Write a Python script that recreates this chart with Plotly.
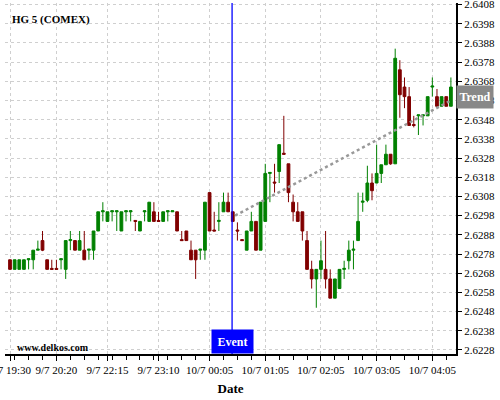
import plotly.graph_objects as go

# ---- data ----
idx = list(range(96))
opens = [2.6275, 2.6270, 2.6270, 2.6270, 2.6275, 2.6275, 2.6280, 2.6285, 2.6275, 2.62705,
         2.62705, 2.6275, 2.6270, 2.6285, 2.6285, 2.6280, 2.6280, 2.6280, 2.6280, 2.6290,
         2.6300, 2.6295, 2.6300, 2.6300, 2.6290, 2.6300, 2.6300, 2.62955, 2.6290, 2.6300,
         2.6295, 2.6300, 2.62955, 2.6295, 2.6300, 2.6300, 2.6300, 2.62855, 2.6290, 2.6280,
         2.6280, 2.6280, 2.6280, 2.6310, 2.62905, 2.6295, 2.6300, 2.6305, 2.6300, 2.62905,
         2.62855, 2.6280, 2.6290, 2.6295, 2.6280, 2.6295, 2.6320, 2.63155, 2.6321, 2.63305,
         2.6325, 2.6305, 2.6300, 2.6300, 2.6285, 2.6270, 2.6265, 2.6270, 2.6270, 2.6265,
         2.6255, 2.6260, 2.6270, 2.62745, 2.6280, 2.6285, 2.6305, 2.6306, 2.6315, 2.6315,
         2.6320, 2.63245, 2.6330, 2.6325, 2.6374, 2.6365, 2.6360, 2.63455, 2.6350, 2.6350,
         2.6350, 2.6365, 2.6360, 2.6355, 2.6360, 2.6355]
highs = [2.6275, 2.6275, 2.6275, 2.6275, 2.62755, 2.6280, 2.6285, 2.6290, 2.6275, 2.6275,
         2.6275, 2.62755, 2.6285, 2.6290, 2.6285, 2.6290, 2.6290, 2.62805, 2.6290, 2.6300,
         2.6305, 2.6300, 2.63005, 2.63005, 2.6300, 2.63005, 2.63005, 2.62955, 2.6295, 2.63005,
         2.6305, 2.6305, 2.6300, 2.6300, 2.63005, 2.63005, 2.6300, 2.6290, 2.6290, 2.6285,
         2.6280, 2.62805, 2.6305, 2.6310, 2.6300, 2.6305, 2.6310, 2.6310, 2.6300, 2.62945,
         2.62855, 2.6290, 2.6300, 2.6295, 2.6305, 2.6325, 2.63205, 2.6325, 2.6335, 2.6350,
         2.6325, 2.6309, 2.6305, 2.6300, 2.6290, 2.62745, 2.6270, 2.6285, 2.6290, 2.6270,
         2.6265, 2.6270, 2.62745, 2.6285, 2.6285, 2.6310, 2.6310, 2.6324, 2.6320, 2.6335,
         2.63245, 2.6335, 2.6330, 2.6385, 2.6379, 2.6370, 2.6365, 2.6350, 2.63505, 2.63505,
         2.6360, 2.6370, 2.6364, 2.6360, 2.6360, 2.6370]
lows = [2.6270, 2.6270, 2.6270, 2.6270, 2.6270, 2.6270, 2.6280, 2.62795, 2.6270, 2.6270,
        2.6270, 2.6270, 2.6265, 2.6280, 2.6280, 2.6280, 2.6275, 2.6275, 2.6275, 2.6290,
        2.6295, 2.6295, 2.6295, 2.6290, 2.6290, 2.6295, 2.6295, 2.6290, 2.6290, 2.6295,
        2.6295, 2.6295, 2.6295, 2.6295, 2.6295, 2.6300, 2.6290, 2.6285, 2.6285, 2.6275,
        2.6265, 2.6275, 2.6275, 2.6290, 2.6290, 2.6290, 2.6300, 2.6300, 2.6295, 2.6285,
        2.6285, 2.6280, 2.6290, 2.6280, 2.6280, 2.6295, 2.6305, 2.6310, 2.6315, 2.6330,
        2.6305, 2.6295, 2.6295, 2.6285, 2.6270, 2.6260, 2.6250, 2.6265, 2.6260, 2.6255,
        2.6255, 2.6260, 2.6265, 2.6270, 2.6270, 2.6285, 2.6300, 2.6305, 2.6306, 2.6315,
        2.6315, 2.63245, 2.63245, 2.6325, 2.6349, 2.6354, 2.6345, 2.6344, 2.6340, 2.6345,
        2.6350, 2.6360, 2.6355, 2.6355, 2.6355, 2.6355]
closes = [2.6270, 2.6275, 2.6275, 2.6275, 2.62755, 2.6280, 2.62805, 2.6280, 2.6270, 2.6270,
          2.6270, 2.62755, 2.6285, 2.62855, 2.6280, 2.6285, 2.6275, 2.62805, 2.6290, 2.6300,
          2.63005, 2.6300, 2.63005, 2.63005, 2.6300, 2.63005, 2.63005, 2.6295, 2.6295, 2.63005,
          2.6305, 2.6295, 2.6295, 2.6300, 2.63005, 2.63005, 2.6290, 2.6285, 2.6285, 2.6275,
          2.6275, 2.62805, 2.6305, 2.6290, 2.6290, 2.62955, 2.6305, 2.6300, 2.6295, 2.6290,
          2.6285, 2.6290, 2.6295, 2.6280, 2.6305, 2.6320, 2.63205, 2.6315, 2.6335, 2.6330,
          2.6310, 2.6300, 2.6295, 2.6290, 2.6270, 2.6265, 2.6270, 2.62745, 2.6265, 2.6255,
          2.6265, 2.6270, 2.62705, 2.6280, 2.62805, 2.6295, 2.63055, 2.6315, 2.6311, 2.6320,
          2.63245, 2.6330, 2.6325, 2.6380, 2.6361, 2.6360, 2.6345, 2.6345, 2.63505, 2.63505,
          2.6360, 2.63655, 2.6355, 2.6360, 2.6355, 2.6365]

tick_idx = [0, 10, 21, 32, 43, 55, 67, 79, 91]
tick_labels = ["9/7 19:30", "9/7 20:20", "9/7 22:15", "9/7 23:10", "10/7 00:05",
               "10/7 01:05", "10/7 02:05", "10/7 03:05", "10/7 04:05"]
minor_tick_idx = list(range(1, 97, 3))

event_x = 47.85
trend_x = [48.5, 95]
trend_y = [2.6298, 2.6358]

SERIF = "Liberation Serif"
GREEN = "#008000"
RED = "#800000"
GRID = "#cfcfcf"

fig = go.Figure()

fig.add_trace(go.Scatter(
    x=trend_x, y=trend_y, mode="lines",
    line=dict(color="#999999", width=2.5, dash="dot"),
    hoverinfo="skip",
))

fig.add_trace(go.Candlestick(
    x=idx, open=opens, high=highs, low=lows, close=closes,
    increasing=dict(line=dict(color=GREEN, width=1), fillcolor=GREEN),
    decreasing=dict(line=dict(color=RED, width=1), fillcolor=RED),
    whiskerwidth=0,
))

fig.add_shape(type="line", xref="x", yref="paper", x0=event_x, x1=event_x, y0=0, y1=1,
              line=dict(color="#0000ff", width=1.3))

fig.add_annotation(x=event_x, xref="x", y=0, yref="paper", xanchor="center", yanchor="bottom",
                   text="<b>Event</b>", showarrow=False, bgcolor="#0000ff",
                   font=dict(family=SERIF, size=12, color="white"),
                   width=41, height=23, borderpad=0)

fig.add_annotation(x=1, xref="paper", y=trend_y[-1], yref="y", xanchor="left", yanchor="middle",
                   yshift=3, text="<b>Trend</b>", showarrow=False, bgcolor="#888888",
                   font=dict(family=SERIF, size=12, color="white"),
                   width=36, height=22, borderpad=0)

fig.add_annotation(x=0.011, xref="paper", y=0.954, yref="paper", xanchor="left", yanchor="middle",
                   text="<b>HG 5 (COMEX)</b>", showarrow=False,
                   font=dict(family=SERIF, size=11, color="black"))

fig.add_annotation(x=0.022, xref="paper", y=0.018, yref="paper", xanchor="left", yanchor="middle",
                   text="<b>www.delkos.com</b>", showarrow=False,
                   font=dict(family=SERIF, size=10, color="black"))

fig.update_layout(
    width=500, height=400,
    margin=dict(l=5, r=44, t=3, b=46),
    paper_bgcolor="white", plot_bgcolor="white",
    showlegend=False,
    boxgap=0.15,
    font=dict(family=SERIF, size=11, color="black"),
    xaxis=dict(
        range=[-1.08, 96.1], tickmode="array", tickvals=tick_idx, ticktext=tick_labels,
        automargin=False, ticklabeloverflow="allow", tickangle=0,
        showgrid=True, gridcolor=GRID, griddash="3px,3px", gridwidth=1,
        showline=True, linecolor="black", linewidth=2,
        ticks="outside", ticklen=5, tickcolor="black", tickwidth=1,
        minor=dict(tickmode="array", tickvals=minor_tick_idx, ticks="outside", ticklen=4,
                   tickcolor="black", tickwidth=1, showgrid=False),
        rangeslider=dict(visible=False), zeroline=False,
        tickfont=dict(family=SERIF, size=11),
        title=dict(text="Date", font=dict(family=SERIF, size=13, weight="bold"), standoff=9),
    ),
    yaxis=dict(
        side="right", range=[2.62259, 2.64088], tickmode="linear", tick0=2.6228, dtick=0.001,
        automargin=False, ticklabeloverflow="allow",
        tickformat=".4f", showgrid=True, gridcolor=GRID, griddash="3px,3px", gridwidth=1,
        showline=True, linecolor="black", linewidth=2,
        ticks="outside", ticklen=4, tickcolor="black", tickwidth=1, zeroline=False,
        tickfont=dict(family=SERIF, size=11),
    ),
)

fig.write_html("out.html", config={"displayModeBar": False},
               post_script="document.body.style.margin='0px';")
